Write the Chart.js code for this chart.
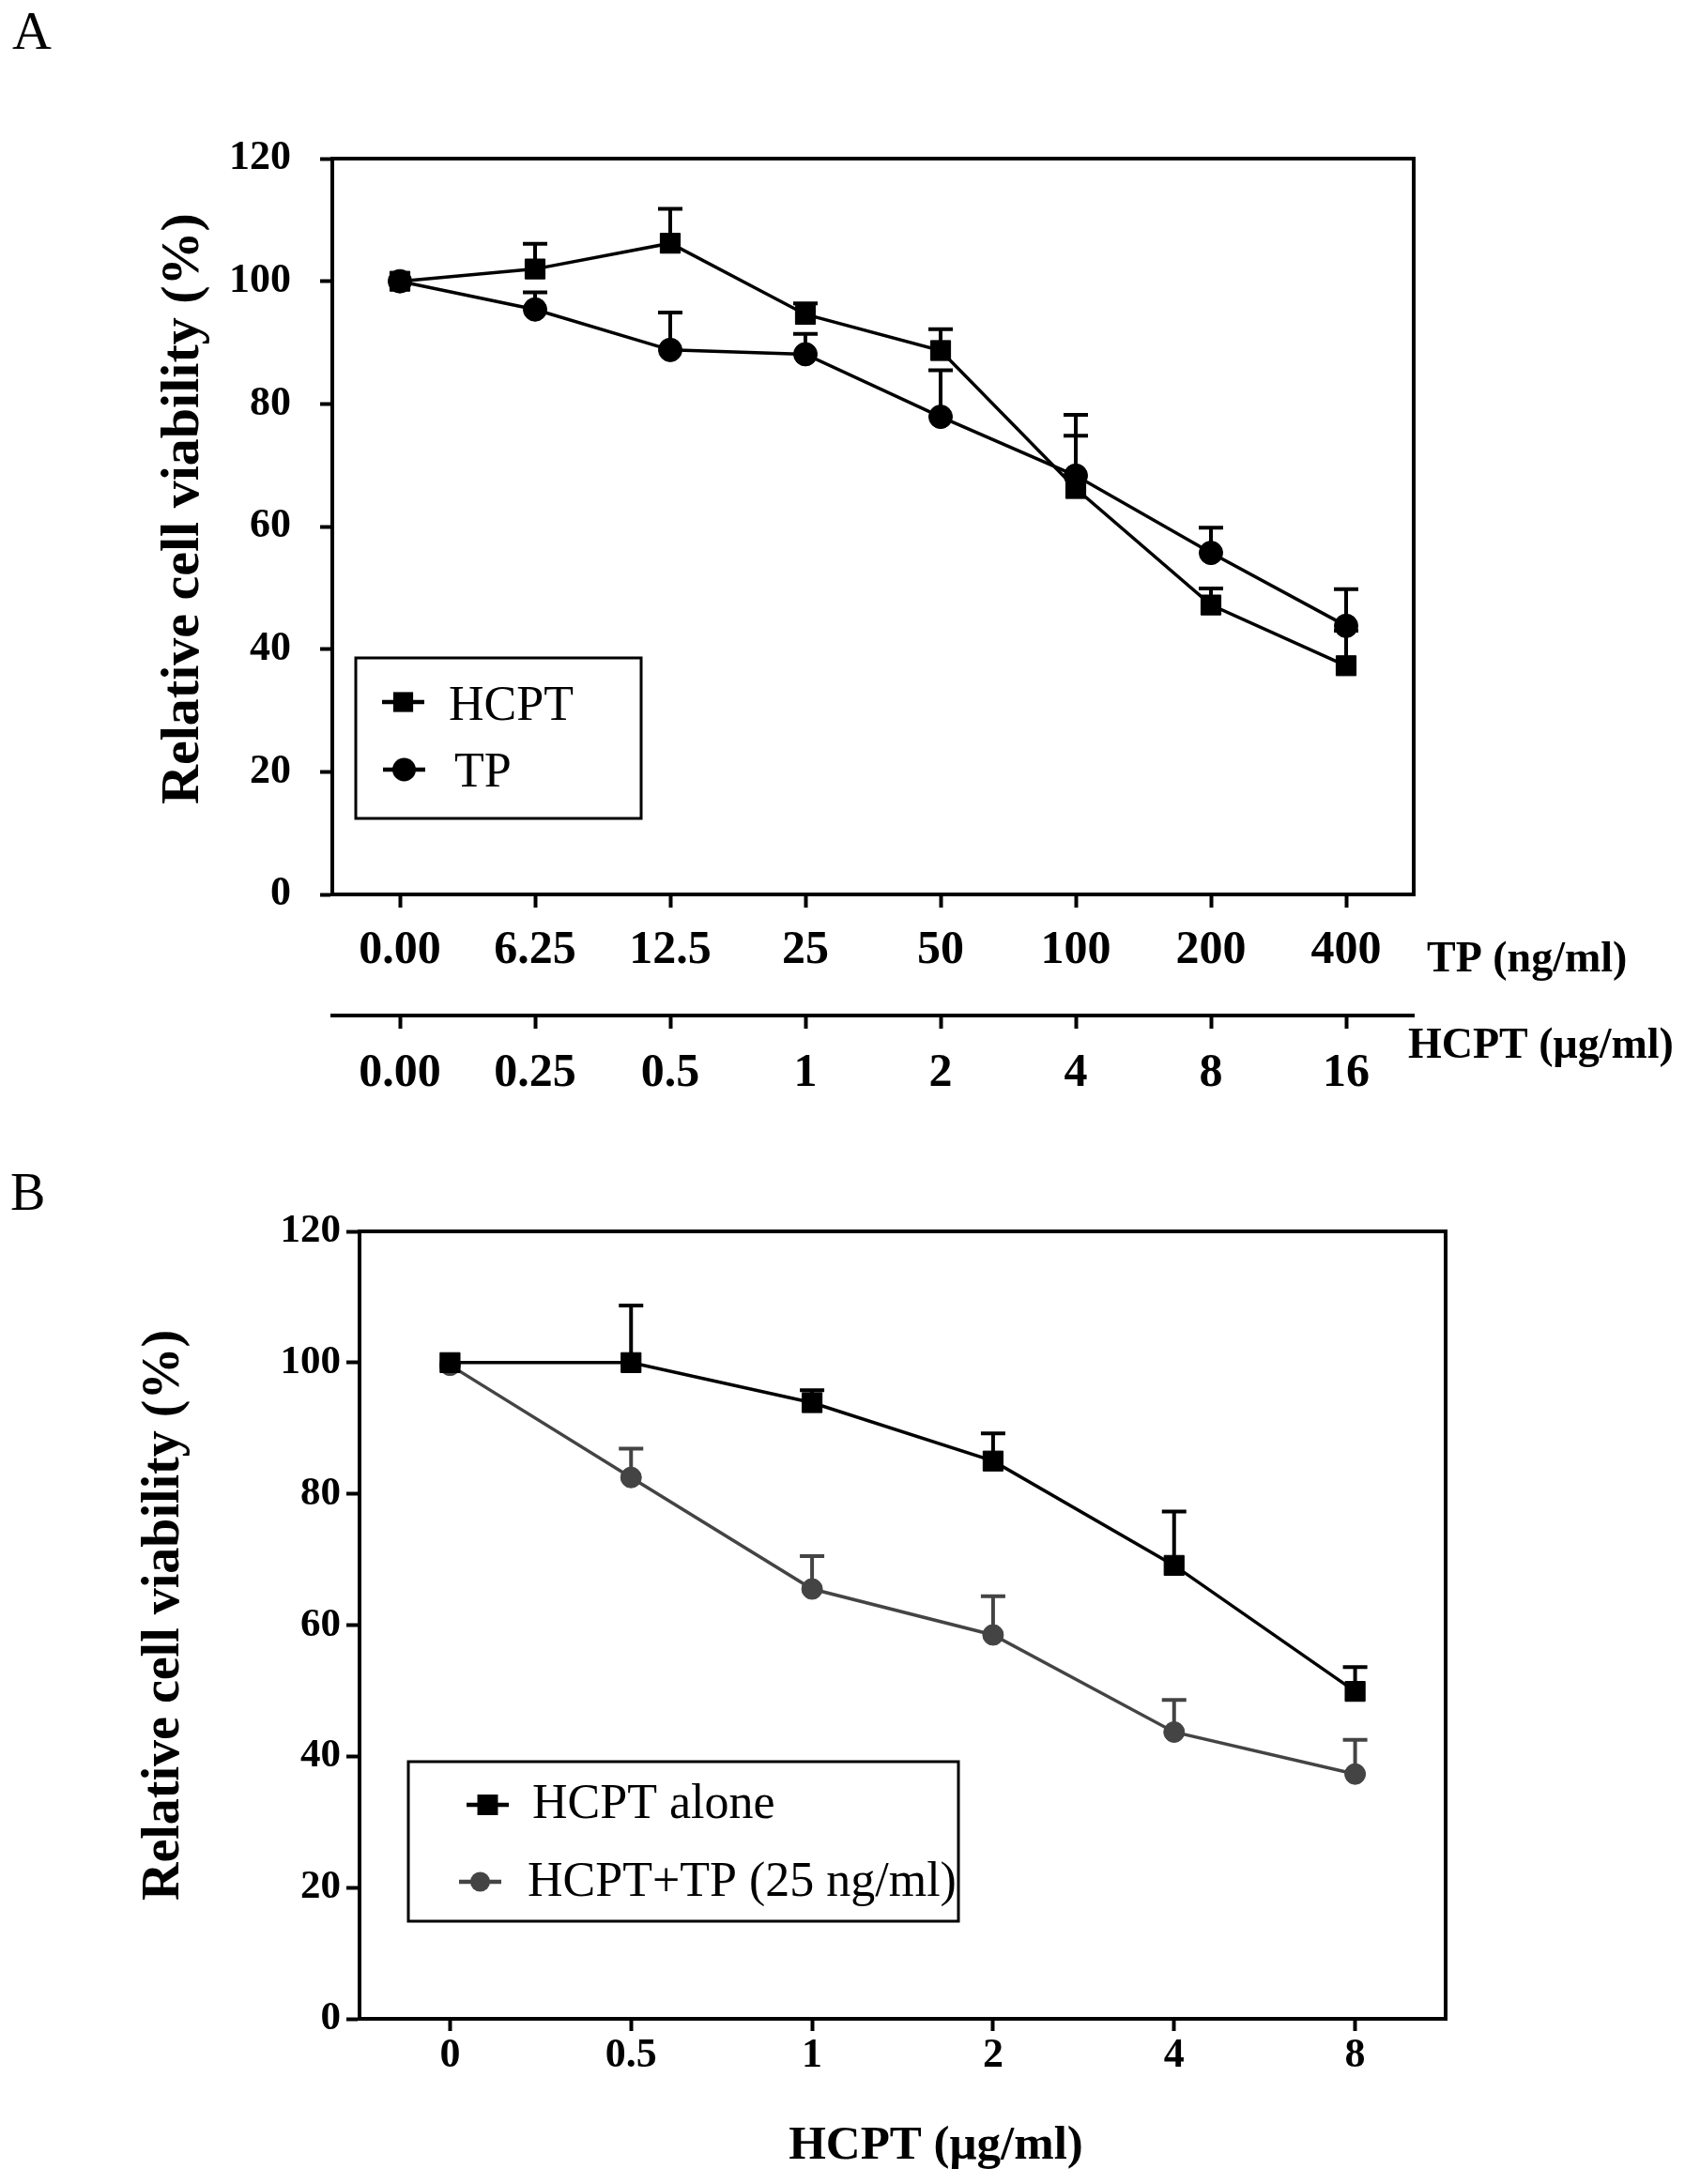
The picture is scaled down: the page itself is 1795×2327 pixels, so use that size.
<!DOCTYPE html>
<html lang="en">
  <head>
    <meta charset="UTF-8" />
    <title>Relative cell viability</title>
    <style>
      * {
        margin: 0;
        padding: 0;
        box-sizing: border-box;
      }

      body {
        width: 1795px;
        height: 2327px;
        background: #fff;
        position: relative;
        overflow: hidden;
      }

      canvas {
        position: absolute;
        left: 0;
      }

      #chartA {
        top: 0;
      }

      #chartB {
        top: 1200px;
      }
    </style>
  </head>

  <body>
    <canvas id="chartA" width="1795" height="1200"></canvas>
    <canvas id="chartB" width="1795" height="1127"></canvas>

    <script src="https://cdn.jsdelivr.net/npm/chart.js@4.4.1/dist/chart.umd.min.js"></script>
    <script>
      // Panel A: single drugs, two dose scales under one axis
      const tpDoses = ["0.00", "6.25", "12.5", "25", "50", "100", "200", "400"];
      const hcptDosesA = ["0.00", "0.25", "0.5", "1", "2", "4", "8", "16"];
      const hcptA = [100, 102.0, 106.2, 94.6, 88.7, 66.2, 47.2, 37.3];
      const hcptAErr = [0, 4.1, 5.6, 1.8, 3.5, 8.6, 2.7, 5.7];
      const tpA = [100, 95.4, 88.8, 88.1, 77.9, 68.3, 55.7, 43.8];
      const tpAErr = [0, 2.8, 6.1, 3.3, 7.6, 9.9, 4.1, 6.0];

      // Panel B: HCPT alone vs HCPT + 25 ng/ml TP
      const hcptDosesB = ["0", "0.5", "1", "2", "4", "8"];
      const hcptAlone = [100, 100, 93.9, 85.0, 69.1, 49.9];
      const hcptAloneErr = [0, 8.7, 1.9, 4.2, 8.2, 3.7];
      const hcptTp = [99.6, 82.5, 65.5, 58.5, 43.7, 37.3];
      const hcptTpErr = [0, 4.4, 5.0, 5.9, 4.9, 5.2];

      // Shared y ticks
      const yTicks = [0, 20, 40, 60, 80, 100, 120];

      const serif = "'Liberation Serif', 'Times New Roman', serif";

      const drawMarker = (ctx, style, r, x, y, color) => {
        ctx.fillStyle = color;
        ctx.beginPath();
        if (style === "rect") {
          const s = r * Math.SQRT1_2;
          ctx.rect(x - s, y - s, 2 * s, 2 * s);
        } else {
          ctx.arc(x, y, r, 0, Math.PI * 2);
        }
        ctx.fill();
      };

      // Upper error bars, drawn under the markers
      const errorBars = {
        id: "errorBars",
        beforeDatasetsDraw(chart) {
          const ctx = chart.ctx;
          const yScale = chart.scales.y;
          chart.data.datasets.forEach((ds, i) => {
            const meta = chart.getDatasetMeta(i);
            ctx.save();
            ctx.strokeStyle = ds.borderColor;
            ctx.lineWidth = 4;
            meta.data.forEach((pt, j) => {
              const e = ds.errors[j];
              if (!e) return;
              const top = yScale.getPixelForValue(ds.data[j] + e);
              ctx.beginPath();
              ctx.moveTo(pt.x, pt.y);
              ctx.lineTo(pt.x, top);
              ctx.moveTo(pt.x - 13, top);
              ctx.lineTo(pt.x + 13, top);
              ctx.stroke();
            });
            ctx.restore();
          });
        },
      };

      // Closed box round the plot area
      const frame = {
        id: "frame",
        beforeDatasetsDraw(chart) {
          const { ctx, chartArea: a } = chart;
          ctx.save();
          ctx.strokeStyle = "#000";
          ctx.lineWidth = 4;
          ctx.strokeRect(a.left, a.top, a.right - a.left, a.bottom - a.top);
          ctx.restore();
        },
      };

      // Boxed legend inside the plot
      const boxLegend = (cfg) => ({
        id: "boxLegend",
        afterDraw(chart) {
          const ctx = chart.ctx;
          ctx.save();
          ctx.strokeStyle = "#000";
          ctx.lineWidth = 3;
          ctx.strokeRect(cfg.x, cfg.y, cfg.w, cfg.h);
          cfg.rows.forEach((r, i) => {
            const ds = chart.data.datasets[i];
            ctx.strokeStyle = ds.borderColor;
            ctx.lineWidth = 4.5;
            ctx.beginPath();
            ctx.moveTo(r.x1, r.y);
            ctx.lineTo(r.x2, r.y);
            ctx.stroke();
            drawMarker(ctx, ds.pointStyle, r.size, (r.x1 + r.x2) / 2, r.y, ds.pointBackgroundColor);
            ctx.font = cfg.font;
            ctx.fillStyle = "#000";
            ctx.textBaseline = "alphabetic";
            ctx.fillText(ds.label, r.tx, r.ty);
          });
          ctx.restore();
        },
      });

      // Free text: panel letters, axis titles, unit labels
      const notes = (items) => ({
        id: "notes",
        afterDraw(chart) {
          const ctx = chart.ctx;
          items.forEach((t) => {
            ctx.save();
            ctx.translate(t.x, t.y);
            if (t.rotate) ctx.rotate(t.rotate);
            ctx.font = t.font;
            ctx.fillStyle = "#000";
            ctx.textAlign = t.align || "left";
            ctx.textBaseline = "alphabetic";
            ctx.fillText(t.text, 0, 0);
            ctx.restore();
          });
        },
      });

      const yAxis = (width, tickLen, pad, size) => ({
        min: 0,
        max: 120,
        afterFit: (s) => {
          s.width = width;
        },
        afterBuildTicks: (s) => {
          s.ticks = yTicks.map((v) => ({ value: v }));
        },
        grid: { drawOnChartArea: false, tickLength: tickLen, tickWidth: 4, color: "#000" },
        border: { display: true, width: 4, color: "#000" },
        ticks: { padding: pad, color: "#000", font: { family: serif, weight: "bold", size: size } },
      });

      const xAxis = (labels, height, pad, size, tickLen) => ({
        type: "category",
        labels: labels,
        min: 0,
        max: labels.length - 1,
        offset: true,
        position: "bottom",
        afterFit: (s) => {
          s.height = height;
        },
        grid: { drawOnChartArea: false, offset: false, tickLength: tickLen, tickWidth: 4, color: "#000" },
        border: { display: true, width: 4, color: "#000" },
        ticks: { padding: pad, color: "#000", maxRotation: 0, autoSkip: false, font: { family: serif, weight: "bold", size: size } },
      });

      const series = (label, data, errors, color, style, radius, order) => ({
        label: label,
        data: data,
        errors: errors,
        borderColor: color,
        backgroundColor: color,
        borderWidth: 3.5,
        tension: 0,
        pointStyle: style,
        pointRadius: radius,
        pointHoverRadius: radius,
        pointBackgroundColor: color,
        pointBorderColor: color,
        pointBorderWidth: 1,
        order: order,
      });

      new Chart(document.getElementById("chartA"), {
        type: "line",
        data: {
          labels: tpDoses,
          datasets: [
            series("HCPT", hcptA, hcptAErr, "#000", "rect", 15, 1),
            series("TP", tpA, tpAErr, "#000", "circle", 12.5, 0),
          ],
        },
        options: {
          responsive: false,
          devicePixelRatio: 1,
          animation: false,
          layout: { padding: { left: 0, top: 169, right: 289, bottom: 0 } },
          plugins: { legend: { display: false }, tooltip: { enabled: false } },
          scales: {
            x: xAxis(tpDoses, 129, 16, 50, 14),
            x2: xAxis(hcptDosesA, 118, 18, 50, 14),
            y: yAxis(354, 13, 31, 44),
          },
        },
        plugins: [
          frame,
          errorBars,
          boxLegend({
            x: 379,
            y: 701,
            w: 304,
            h: 171,
            font: "52px " + serif,
            rows: [
              { y: 748, x1: 407, x2: 452, tx: 478, ty: 767, size: 15 },
              { y: 820, x1: 408, x2: 453, tx: 484, ty: 838, size: 12.5 },
            ],
          }),
          notes([
            { text: "A", x: 13, y: 52, font: "58px " + serif },
            { text: "Relative cell viability (%)", x: 211, y: 542, rotate: -Math.PI / 2, align: "center", font: "bold 58px " + serif },
            { text: "TP (ng/ml)", x: 1520, y: 1035, font: "bold 46px " + serif },
            { text: "HCPT (\u03bcg/ml)", x: 1500, y: 1127, font: "bold 46px " + serif },
          ]),
        ],
      });

      new Chart(document.getElementById("chartB"), {
        type: "line",
        data: {
          labels: hcptDosesB,
          datasets: [
            series("HCPT alone", hcptAlone, hcptAloneErr, "#000", "rect", 15, 0),
            series("HCPT+TP (25 ng/ml)", hcptTp, hcptTpErr, "#444", "circle", 11, 1),
          ],
        },
        options: {
          responsive: false,
          devicePixelRatio: 1,
          animation: false,
          layout: { padding: { left: 0, top: 112, right: 255, bottom: 0 } },
          plugins: { legend: { display: false }, tooltip: { enabled: false } },
          scales: {
            x: xAxis(hcptDosesB, 176, 0, 44, 13),
            y: yAxis(383, 14, 6, 43),
          },
        },
        plugins: [
          frame,
          errorBars,
          boxLegend({
            x: 435,
            y: 677,
            w: 586,
            h: 170,
            font: "52px " + serif,
            rows: [
              { y: 723, x1: 497, x2: 542, tx: 567, ty: 737, size: 15.5 },
              { y: 805, x1: 489, x2: 534, tx: 562, ty: 820, size: 10.5 },
            ],
          }),
          notes([
            { text: "B", x: 11, y: 89, font: "56px " + serif },
            { text: "Relative cell viability (%)", x: 190, y: 521, rotate: -Math.PI / 2, align: "center", font: "bold 56px " + serif },
            { text: "HCPT (\u03bcg/ml)", x: 997, y: 1100, align: "center", font: "bold 51px " + serif },
          ]),
        ],
      });
    </script>
  </body>
</html>
